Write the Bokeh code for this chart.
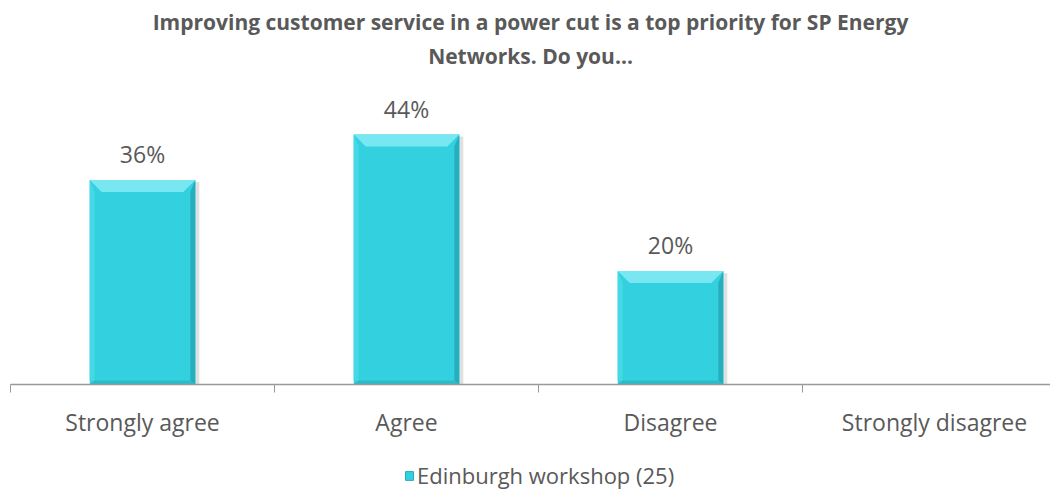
from bokeh.plotting import figure
from bokeh.layouts import column
from bokeh.models import (ColumnDataSource, FixedTicker, Legend, LegendItem, Range1d)
from bokeh.core.properties import value
from bokeh.embed import file_html
from bokeh.resources import INLINE

# ---- data ----
categories = ["Strongly agree", "Agree", "Disagree", "Strongly disagree"]
values = [36, 44, 20, 0]
labels = ["36%", "44%", "20%", ""]
series_name = "Edinburgh workshop (25)"
title_lines = ["Improving customer service in a power cut is a top priority for SP Energy",
               "Networks. Do you..."]

# ---- geometry / style ----
W = 1050
H_TITLE = 80
H_MAIN = 372
H_LEG = 40
TOP_BORDER = 20
FRAME_W = 1040
PX_PER_CAT = 264.0
FRAME_H = 284
YMAX = 50.0
BAR_W = 0.4
px_x = 1.0 / PX_PER_CAT
px_y = YMAX / FRAME_H

MAIN = "#33d1df"
TOP = "#78e7f1"
LEFTC = "#45d8e5"
RIGHTC = "#25aebb"
BOTC = "#2bbcc9"
TXT = "#595959"
FONT = "Open Sans"

centers = [i + 0.5 for i in range(len(categories))]


def blank(fig):
    fig.outline_line_color = None
    fig.grid.visible = False
    fig.axis.visible = False
    fig.border_fill_color = "white"
    fig.background_fill_color = "white"


# ---- title strip ----
tf = figure(width=W, height=H_TITLE, output_backend="svg", toolbar_location=None,
            x_range=Range1d(0, 1), y_range=Range1d(0, H_TITLE),
            min_border_left=0, min_border_right=0, min_border_top=0, min_border_bottom=0)
blank(tf)
baselines = [H_TITLE - 21, H_TITLE - 55]
tsrc = ColumnDataSource(dict(x=[0.5, 0.5], y=baselines, t=title_lines))
tf.text(x="x", y="y", text="t", source=tsrc, text_align="center",
        text_baseline="alphabetic", text_font=value(FONT), text_font_size="21px",
        text_font_style="bold", text_color=TXT)

# ---- main chart ----
p = figure(width=W, height=H_MAIN, output_backend="svg", toolbar_location=None,
           x_range=Range1d(0, FRAME_W / PX_PER_CAT), y_range=Range1d(0, YMAX),
           min_border_left=10, min_border_right=0, min_border_top=TOP_BORDER,
           min_border_bottom=H_MAIN - TOP_BORDER - FRAME_H)
p.outline_line_color = None
p.grid.visible = False
p.yaxis.visible = False
p.background_fill_color = None
p.border_fill_color = "white"

# shadow
sh = ColumnDataSource(dict(
    left=[c - BAR_W / 2 + 2 * px_x for c, v in zip(centers, values) if v > 0],
    right=[c + BAR_W / 2 + 4 * px_x for c, v in zip(centers, values) if v > 0],
    top=[v - 2 * px_y for v in values if v > 0],
    bottom=[-4 * px_y for v in values if v > 0]))
p.quad(left="left", right="right", top="top", bottom="bottom", source=sh,
       fill_color="#000000", fill_alpha=0.12, line_color=None)

src = ColumnDataSource(dict(
    left=[c - BAR_W / 2 for c in centers],
    right=[c + BAR_W / 2 for c in centers],
    top=values, bottom=[0] * len(values)))
bars = p.quad(left="left", right="right", top="top", bottom="bottom", source=src,
              fill_color=MAIN, line_color=None)

# bevels
bs, by_top, bb = 5 * px_x, 12 * px_y, 4 * px_y
d = 12 * px_x
txs, tys, lxs, lys, rxs, rys, bxs, bys = [], [], [], [], [], [], [], []
for c, v in zip(centers, values):
    if v <= 0:
        continue
    L, R = c - BAR_W / 2, c + BAR_W / 2
    txs.append([L, R, R - d, L + d]); tys.append([v, v, v - by_top, v - by_top])
    lxs.append([L, L, L + bs, L + bs]); lys.append([bb, v, v - by_top, bb])
    rxs.append([R, R, R - bs, R - bs]); rys.append([0, v, v - by_top, bb])
    bxs.append([L, R, R - bs, L + bs]); bys.append([0, 0, bb, bb])
p.patches(lxs, lys, fill_color=LEFTC, line_color=None)
p.patches(rxs, rys, fill_color=RIGHTC, line_color=None)
p.patches(bxs, bys, fill_color=BOTC, line_color=None)
p.patches(txs, tys, fill_color=TOP, line_color=None)

# data labels
lab = ColumnDataSource(dict(x=centers, y=values, t=labels))
p.text(x="x", y="y", text="t", source=lab, text_align="center",
       text_baseline="alphabetic", y_offset=-26, text_font=value(FONT),
       text_font_size="23px", text_color=TXT)

# axis
ax = p.xaxis[0]
ax.ticker = FixedTicker(ticks=centers, minor_ticks=[0, 1, 2, 3, 4])
ax.major_label_overrides = {c: n for c, n in zip(centers, categories)}
ax.major_tick_out = 0
ax.major_tick_in = 0
ax.minor_tick_out = 8
ax.minor_tick_in = 0
ax.minor_tick_line_color = "#999999"
ax.axis_line_color = "#999999"
ax.axis_line_width = 1.5
ax.major_label_standoff = 13
ax.major_label_text_font = FONT
ax.major_label_text_font_size = "23px"
ax.major_label_text_color = TXT

# ---- legend strip ----
lg = figure(width=W, height=H_LEG, output_backend="svg", toolbar_location=None,
            x_range=Range1d(0, 1), y_range=Range1d(0, 1),
            min_border_left=0, min_border_right=0, min_border_top=0, min_border_bottom=0)
blank(lg)
swatch = lg.quad(left=[5], right=[6], top=[6], bottom=[5], fill_color=MAIN,
                 line_color=RIGHTC, line_width=1)
legend = Legend(items=[LegendItem(label=series_name, renderers=[swatch])],
                orientation="horizontal", location=(394, 2),
                label_text_font=FONT, label_text_font_size="22px",
                label_text_color=TXT, border_line_color=None,
                background_fill_alpha=0, glyph_width=10, glyph_height=11,
                label_standoff=3, margin=0, padding=2)
lg.add_layout(legend, "center")

layout = column(tf, p, lg, spacing=0)
open("out.html", "w").write(file_html(layout, INLINE))
